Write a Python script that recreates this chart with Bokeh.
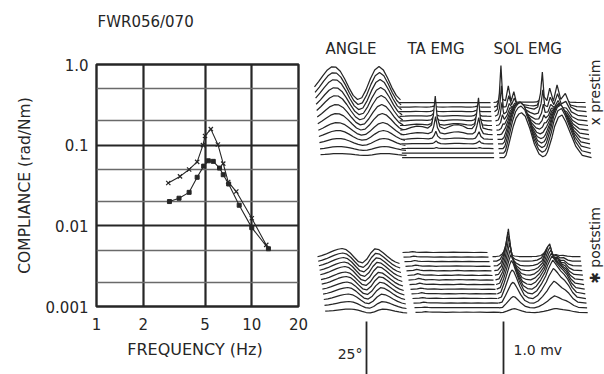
import numpy as np
from bokeh.plotting import figure
from bokeh.layouts import row, column
from bokeh.models import Range1d, FixedTicker
from bokeh.core.properties import value
from bokeh.embed import file_html
from bokeh.resources import INLINE

# ---------------------------------------------------------------------------
# Compliance vs. frequency (log-log)
# ---------------------------------------------------------------------------
freq_pre = [2.9, 3.45, 3.95, 4.45, 4.85, 5.0, 5.45, 6.05, 6.55, 7.05, 7.95, 10.0, 12.4]
comp_pre = [0.034, 0.041, 0.050, 0.062, 0.10, 0.13, 0.158, 0.102, 0.059, 0.035, 0.0266, 0.0124, 0.0058]

freq_post = [2.95, 3.4, 3.95, 4.45, 4.9, 5.25, 5.65, 6.2, 6.55, 7.1, 8.3, 10.0, 12.8]
comp_post = [0.020, 0.022, 0.026, 0.040, 0.055, 0.064, 0.063, 0.052, 0.043, 0.033, 0.018, 0.0095, 0.0052]

x_ticks = [1, 2, 5, 10, 20]
x_tick_labels = ["1", "2", "5", "10", "20"]
y_ticks = [0.001, 0.01, 0.1, 1.0]
y_tick_labels = ["0.001", "0.01", "0.1", "1.0"]
x_grid_lines = [2, 5, 10]
y_grid_major = [0.01, 0.1]
y_grid_minor = [0.002, 0.005, 0.02, 0.05, 0.2, 0.5]

chart_title = "FWR056/070"

# ---------------------------------------------------------------------------
# Waterfall sweeps: normalised sweep position t (0..1) and trace heights,
# one amplitude per stacked sweep (back sweep first)
# ---------------------------------------------------------------------------
pre_angle_t = [0.0, .05, .10, .15, .20, .25, .30, .35, .40, .45, .50, .55, .60, .65, .70, .75, .80, .85, .90, .95, 1.0]
pre_angle_v = [.40, .56, .74, .90, .99, .98, .86, .64, .38, .15, .03, .08, .32, .64, .90, 1.0, .90, .66, .38, .15, .02]
pre_angle_amp = [34, 33, 31, 28, 25, 21, 17, 13, 10, 7, 4, 2]

pre_ta_t = [0.0, .06, .12, .18, .24, .30, .34, .36, .38, .40, .43, .48, .53, .58, .63, .68, .73, .78, .81, .83, .85, .87, .90, .95, 1.0]
pre_ta_v = [0.0, .02, .08, .12, .10, .06, .15, .45, 1.0, .40, .10, .04, .10, .15, .16, .12, .05, .04, .15, .50, .95, .35, .06, .02, 0.0]
pre_ta_amp = [0, 1, 2, 4, 7, 12, 34, 18, 8, 3, 1, 0, 0]

pre_sol_t = [0.0, .03, .05, .07, .09, .12, .15, .18, .21, .24, .28, .33, .38, .43, .47, .50, .52, .54, .57, .60, .64, .68, .72, .77, .83, .90, 1.0]
pre_sol_spike = [0.0, .05, .30, 1.0, .25, .20, .50, .15, .35, .10, .05, .05, .05, .05, .10, .40, .85, .30, .20, .45, .15, .50, .20, .35, .08, .02, 0.0]
pre_sol_hump = [0.0, 0.0, 0.0, .05, .20, .45, .70, .88, .97, 1.0, .92, .65, .30, .08, .02, .05, .12, .25, .45, .70, .90, .95, .80, .55, .25, .05, 0.0]
pre_sol_spike_amp = [6, 20, 46, 30, 18, 10, 5, 2, 0, 0, 0, 0, 0]
pre_sol_hump_amp = [0, 2, 4, 8, 12, 18, 24, 30, 36, 42, 46, 47, 45]

post_angle_t = [0.0, .05, .10, .15, .20, .25, .30, .35, .40, .45, .50, .55, .60, .65, .70, .75, .80, .85, .90, .95, 1.0]
post_angle_v = [.45, .52, .62, .74, .86, .95, 1.0, .92, .70, .40, .12, .04, .28, .70, .98, .92, .72, .48, .26, .10, 0.0]
post_angle_amp = [15, 15, 15, 15, 15, 14, 14, 13, 12, 10, 7, 4]

post_ta_t = [0.0, .08, .12, .16, .20, .28, .36, .44, .52, .60, .68, .76, .84, .92, 1.0]
post_ta_v = [0.0, .20, .60, .30, .10, .20, 0.0, .15, .05, .20, .05, .15, 0.0, .10, 0.0]
post_ta_amp = [1.5, 1.5, 2, 2, 2.5, 3, 3, 2.5, 2, 2, 1.5, 1.5, 1, 1]

post_sol_t = [0.0, .04, .08, .11, .14, .16, .18, .21, .25, .30, .35, .40, .45, .50, .55, .58, .61, .63, .65, .68, .72, .76, .80, .85, .90, 1.0]
post_sol_spike = [0.0, 0.0, .05, .25, .60, 1.0, .55, .15, .05, 0.0, 0.0, 0.0, 0.0, .02, .10, .30, .50, .55, .35, .15, .20, .10, .12, .03, 0.0, 0.0]
post_sol_hump = [0.0, .05, .35, .60, .85, .95, .90, .70, .40, .12, .02, 0.0, .10, .30, .55, .75, .90, 1.0, .95, .85, .70, .60, .45, .20, .05, 0.0]
post_sol_spike_amp = [10, 22, 30, 34, 26, 18, 10, 6, 3, 0, 0, 0, 0]
post_sol_hump_amp = [0, 2, 4, 8, 14, 20, 26, 30, 32, 30, 22, 12, 4]

column_titles = ["ANGLE", "TA EMG", "SOL EMG"]
condition_labels = ["x prestim", "\u2731 poststim"]
scale_labels = ["25\u00b0", "1.0 mv"]

FONT = "DejaVu Sans"
INK = "#262626"
HEAD_H = 40          # height of the heading strip
BODY_H = 374 - HEAD_H


def blank_canvas(width, height, xr, yr):
    p = figure(width=width, height=height, x_range=xr, y_range=yr,
               output_backend="svg", toolbar_location=None, frame_align=False,
               min_border=0, min_border_left=0, min_border_right=0,
               min_border_top=0, min_border_bottom=0)
    p.axis.visible = False
    p.grid.visible = False
    p.outline_line_color = None
    p.background_fill_color = "white"
    p.border_fill_color = "white"
    return p


# ---------------------------------------------------------------------------
# Heading strip with the record name
# ---------------------------------------------------------------------------
head = blank_canvas(604, HEAD_H, Range1d(0, 604), Range1d(HEAD_H, 0))
head.text(x=[97], y=[21], text=[chart_title], text_font=value(FONT),
          text_font_size="15px", text_color=INK, text_align="left",
          text_baseline="middle")

# ---------------------------------------------------------------------------
# Left: compliance plot
# ---------------------------------------------------------------------------
left = figure(width=312, height=BODY_H, x_axis_type="log", y_axis_type="log",
              x_range=Range1d(1, 20), y_range=Range1d(0.001, 1),
              output_backend="svg", toolbar_location=None, frame_align=False,
              min_border_left=96, min_border_right=14,
              min_border_top=64 - HEAD_H, min_border_bottom=68)
left.background_fill_color = "white"
left.border_fill_color = "white"
left.outline_line_color = INK
left.outline_line_width = 2.4

left.xaxis.ticker = FixedTicker(ticks=x_ticks)
left.xaxis.major_label_overrides = dict(zip(x_ticks, x_tick_labels))
left.yaxis.ticker = FixedTicker(ticks=y_ticks)
left.yaxis.major_label_overrides = dict(zip(y_ticks, y_tick_labels))
for ax in (left.xaxis, left.yaxis):
    ax.axis_line_color = None
    ax.major_tick_line_color = None
    ax.minor_tick_line_color = None
    ax.major_tick_out = 0
    ax.major_tick_in = 0
    ax.major_label_text_font = FONT
    ax.major_label_text_font_size = "15px"
    ax.major_label_text_color = INK
    ax.axis_label_text_font = FONT
    ax.axis_label_text_font_style = "normal"
    ax.axis_label_text_color = INK
left.xaxis.axis_label_text_font_size = "16px"
left.yaxis.axis_label_text_font_size = "15.5px"
left.xaxis.axis_label = "FREQUENCY  (Hz)"
left.yaxis.axis_label = "COMPLIANCE (rad/Nm)"
left.xaxis.major_label_standoff = 11
left.yaxis.major_label_standoff = 8
left.xaxis.axis_label_standoff = 7
left.yaxis.axis_label_standoff = 9

left.xgrid.ticker = FixedTicker(ticks=x_grid_lines)
left.xgrid.grid_line_color = INK
left.xgrid.grid_line_width = 2.2
left.ygrid.ticker = FixedTicker(ticks=y_grid_major, minor_ticks=y_grid_minor)
left.ygrid.grid_line_color = INK
left.ygrid.grid_line_width = 2.0
left.ygrid.minor_grid_line_color = "#6a6a6a"
left.ygrid.minor_grid_line_width = 1.4

left.line(freq_pre, comp_pre, line_color=INK, line_width=1.1)
left.scatter(freq_pre, comp_pre, marker="x", size=6, line_color=INK, line_width=1.2)
left.line(freq_post, comp_post, line_color=INK, line_width=1.1)
left.scatter(freq_post, comp_post, marker="square", size=4,
             fill_color=INK, line_color=INK)

# ---------------------------------------------------------------------------
# Right: stacked sweeps with hidden-line fill
# ---------------------------------------------------------------------------
right = blank_canvas(292, BODY_H, Range1d(312, 604), Range1d(374, HEAD_H))


def draw_stack(p, x0, width, dx, y0, dy, t, comps):
    """Draw sweeps back to front; each one blanks out what lies behind it."""
    t = np.asarray(t, dtype=float)
    n = len(comps[0][1])
    for i in range(n):
        xs = x0 + i * dx + t * width
        base = y0 + i * dy
        h = sum(amp[i] * np.asarray(v, dtype=float) for v, amp in comps)
        ys = base - h
        p.varea(x=xs, y1=ys, y2=base + 0.8, fill_color="white")
        p.line(xs, ys, line_color=INK, line_width=1.25)


# prestim block
draw_stack(right, 314, 86, 0.55, 100, 5.0, pre_angle_t, [(pre_angle_v, pre_angle_amp)])
draw_stack(right, 398, 92, 0.3, 102, 4.6, pre_ta_t, [(pre_ta_v, pre_ta_amp)])
draw_stack(right, 493, 92, 0.5, 102, 4.6, pre_sol_t,
           [(pre_sol_spike, pre_sol_spike_amp), (pre_sol_hump, pre_sol_hump_amp)])
# poststim block
draw_stack(right, 317, 82, 0.7, 263, 4.5, post_angle_t, [(post_angle_v, post_angle_amp)])
draw_stack(right, 402, 85, 1.0, 252, 4.6, post_ta_t, [(post_ta_v, post_ta_amp)])
draw_stack(right, 492, 88, 0.6, 256, 4.67, post_sol_t,
           [(post_sol_spike, post_sol_spike_amp), (post_sol_hump, post_sol_hump_amp)])

# column headings
right.text(x=[325, 407, 493], y=[48, 48, 48], text=column_titles,
           text_font=value(FONT), text_font_size="15px", text_color=INK,
           text_align="left", text_baseline="middle")

# condition labels, reading upward along the right edge
right.text(x=[594, 594], y=[92, 245], text=condition_labels, angle=np.pi / 2,
           text_font=value(FONT), text_font_size="14px", text_color=INK,
           text_align="center", text_baseline="middle")

# calibration bars
right.segment(x0=[366, 503], y0=[321, 321], x1=[366, 503], y1=[374, 374],
              line_color=INK, line_width=1.8)
right.text(x=[362, 513], y=[353, 349], text=scale_labels,
           text_font=value(FONT), text_font_size="14px", text_color=INK,
           text_align=["right", "left"], text_baseline="middle")

layout = column(head, row(left, right))
open("out.html", "w").write(file_html(layout, INLINE))
